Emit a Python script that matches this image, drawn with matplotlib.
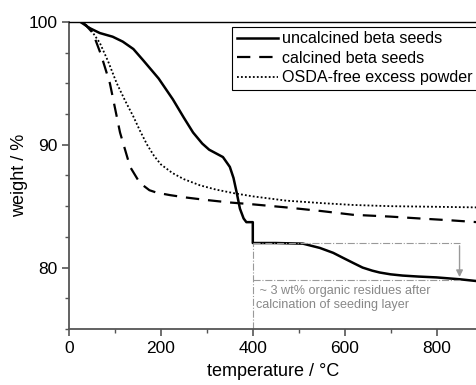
import matplotlib
matplotlib.use("Agg")
import matplotlib.pyplot as plt
from matplotlib.ticker import MultipleLocator

plt.rcParams["font.family"] = ["Liberation Sans", "DejaVu Sans"]

# uncalcined beta seeds (solid)
unc_t = [25, 45, 67, 95, 117, 140, 161, 195, 226, 250, 270, 290, 305, 320, 335,
         350, 358, 365, 372, 380, 386, 400, 400, 450, 509, 546, 575, 596, 620,
         639, 660, 676, 700, 726, 760, 800, 850, 888]
unc_w = [100, 99.5, 99.1, 98.8, 98.4, 97.8, 96.9, 95.4, 93.7, 92.2, 91.0, 90.1,
         89.6, 89.3, 89.0, 88.2, 87.3, 86.1, 84.8, 84.0, 83.7, 83.7, 82.0, 82.0,
         81.95, 81.6, 81.2, 80.8, 80.35, 80.0, 79.75, 79.6, 79.45, 79.35, 79.27,
         79.2, 79.05, 78.9]

# calcined beta seeds (dashed)
cal_t = [30, 52, 70, 89, 111, 133, 154, 175, 191, 220, 256, 300, 350, 400,
         473, 550, 618, 700, 763, 830, 888]
cal_w = [100, 99.1, 97.3, 95.0, 91.0, 88.2, 86.9, 86.3, 86.1, 85.9, 85.7,
         85.5, 85.3, 85.15, 84.9, 84.6, 84.3, 84.15, 84.0, 83.85, 83.7]

# OSDA-free excess powder (dotted)
osda_t = [30, 45, 67, 85, 104, 122, 140, 155, 170, 185, 200, 225, 250, 285,
          320, 360, 400, 473, 550, 618, 700, 800, 888]
osda_w = [100, 99.5, 98.3, 96.8, 95.0, 93.6, 92.3, 91.1, 90.0, 89.1, 88.4,
          87.7, 87.2, 86.7, 86.35, 86.05, 85.8, 85.45, 85.25, 85.1, 85.0,
          84.95, 84.9]

labels = ["uncalcined beta seeds", "calcined beta seeds", "OSDA-free excess powder"]

fig = plt.figure(figsize=(4.77, 3.85), dpi=100)
ax = fig.add_axes([0.1447, 0.1455, 0.8553, 0.7974])

ax.plot(unc_t, unc_w, color="black", lw=1.8, label=labels[0])
ax.plot(cal_t, cal_w, color="black", lw=1.6, dashes=(6, 4), label=labels[1])
ax.plot(osda_t, osda_w, color="black", lw=1.3, linestyle=(0, (1, 1.2)), label=labels[2])

# annotation for residual organics
gray = "#999999"
ax.plot([400, 400], [75, 82], color=gray, lw=0.8, linestyle="-.")
ax.plot([400, 850], [82, 82], color=gray, lw=0.8, linestyle="-.")
ax.plot([400, 850], [79, 79], color=gray, lw=0.8, linestyle="-.")
ax.annotate("", xy=(850, 79.0), xytext=(850, 82.0),
            arrowprops=dict(arrowstyle="-|>", color=gray, lw=1.0, mutation_scale=10))
ax.text(408, 78.55, " ~ 3 wt% organic residues after\ncalcination of seeding layer",
        color="#888888", fontsize=9.1, va="top", ha="left", linespacing=1.15)

ax.set_xlim(0, 888)
ax.set_ylim(75, 100)
ax.xaxis.set_major_locator(MultipleLocator(200))
ax.xaxis.set_minor_locator(MultipleLocator(100))
ax.yaxis.set_major_locator(MultipleLocator(10))
ax.yaxis.set_minor_locator(MultipleLocator(2.5))
ax.set_yticks([80, 90, 100])

ax.spines["right"].set_visible(False)
ax.spines["top"].set_color("black")
ax.spines["top"].set_linewidth(1.0)
for s in ("left", "bottom"):
    ax.spines[s].set_color("#555555")
    ax.spines[s].set_linewidth(1.3)

ax.tick_params(which="both", direction="out", color="#555555", labelsize=12.5,
               top=False, right=False)
ax.tick_params(which="major", length=5, width=1.2)
ax.tick_params(which="minor", length=3, width=1.0)

ax.set_xlabel("temperature / °C", fontsize=13, labelpad=5)
ax.set_ylabel("weight / %", fontsize=13, labelpad=0)

leg = ax.legend(loc="upper right", bbox_to_anchor=(1.0, 0.985), fontsize=11.6,
                handlelength=2.5, handletextpad=0.25, borderpad=0.3,
                labelspacing=0.28, borderaxespad=0.0, fancybox=False,
                framealpha=1)
leg.get_frame().set_edgecolor("black")
leg.get_frame().set_linewidth(0.8)

fig.savefig("out.png", dpi=100)
